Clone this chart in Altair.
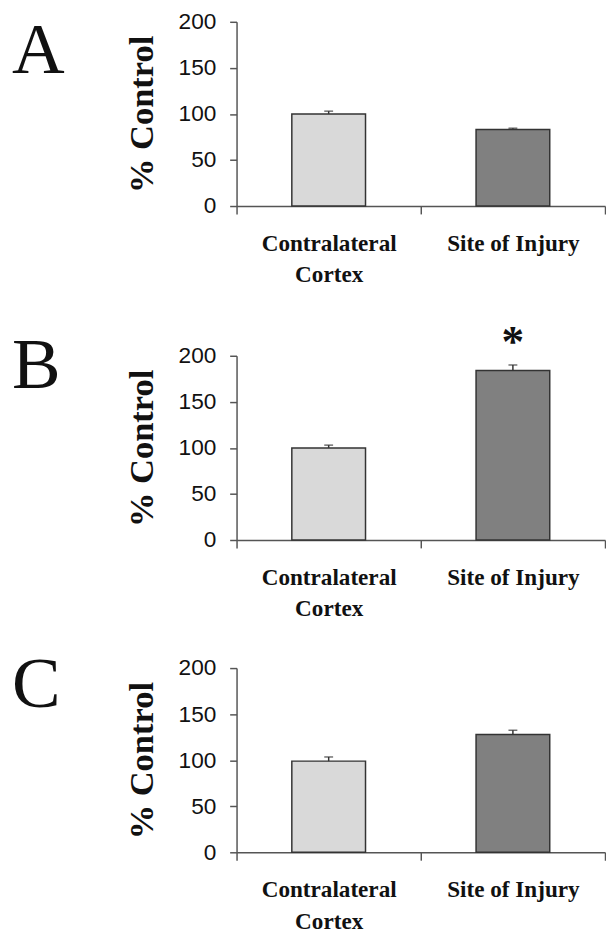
import altair as alt
import pandas as pd

categories = ["Contralateral Cortex", "Site of Injury"]
panel_letters = ["A", "B", "C"]
values_a = [100, 83]
errors_a = [3, 1.5]
values_b = [100, 184]
errors_b = [3, 6]
values_c = [99, 128]
errors_c = [4.5, 4.5]
stars_b = ["", "*"]
y_ticks = [0, 50, 100, 150, 200]
bar_colors = ["#d9d9d9", "#808080"]

W, H = 374, 187
AXIS_COLOR = "#555555"


def panel(letter, vals, errs, stars, letter_y):
    df = pd.DataFrame({
        "cat": categories,
        "val": vals,
        "top": [v + e for v, e in zip(vals, errs)],
        "star": stars,
    })
    base = alt.Chart(df)
    x = alt.X(
        "cat:N",
        sort=categories,
        scale=alt.Scale(paddingInner=0, paddingOuter=0),
        axis=alt.Axis(
            title=None,
            labelAngle=0,
            labelFont="Liberation Serif",
            labelFontWeight="bold",
            labelFontSize=23.5,
            labelColor="#111111",
            labelLineHeight=32,
            labelPadding=18,
            labelExpr="datum.value == 'Contralateral Cortex' ? ['Contralateral', 'Cortex'] : datum.value",
            tickBand="extent",
            tickSize=8,
            tickColor=AXIS_COLOR,
            tickWidth=1.5,
            domainColor=AXIS_COLOR,
            domainWidth=1.5,
        ),
    )
    y = alt.Y(
        "val:Q",
        scale=alt.Scale(domain=[0, 200], nice=False),
        axis=alt.Axis(
            title="% Control",
            values=y_ticks,
            labelFont="Liberation Sans",
            labelFontSize=23,
            labelColor="#111111",
            labelPadding=14,
            tickSize=7,
            tickColor=AXIS_COLOR,
            tickWidth=1.5,
            domainColor=AXIS_COLOR,
            domainWidth=1.5,
            titleFont="Liberation Serif",
            titleFontWeight="bold",
            titleFontSize=35,
            titleColor="#111111",
            titleAngle=270,
            titleX=-96,
            titleY=H / 2,
            titleAlign="center",
            titleBaseline="middle",
        ),
    )
    bars = base.mark_bar(
        width={"band": 0.4}, stroke="#333333", strokeWidth=1.5
    ).encode(
        x=x,
        y=y,
        color=alt.Color(
            "cat:N",
            scale=alt.Scale(domain=categories, range=bar_colors),
            legend=None,
        ),
    )
    rules = base.mark_rule(color="#333333", strokeWidth=1.5).encode(
        x=alt.X("cat:N", sort=categories),
        y="val:Q",
        y2="top:Q",
    )
    caps = base.mark_tick(color="#333333", thickness=1.5, size=9).encode(
        x=alt.X("cat:N", sort=categories),
        y="top:Q",
    )
    star = base.mark_text(
        font="Liberation Serif",
        fontWeight="bold",
        fontSize=46,
        baseline="alphabetic",
        dy=-9,
        color="#111111",
    ).encode(
        x=alt.X("cat:N", sort=categories),
        y="top:Q",
        text="star:N",
    )
    lab = alt.Chart(pd.DataFrame({"t": [letter]})).mark_text(
        font="Liberation Serif",
        fontSize=74,
        align="left",
        baseline="alphabetic",
        color="#111111",
    ).encode(
        text="t:N",
        x=alt.value(-228),
        y=alt.value(letter_y),
    )
    return alt.layer(bars, rules, caps, star, lab).properties(width=W, height=H)


pa = panel(panel_letters[0], values_a, errors_a, ["", ""], 52)
pb = panel(panel_letters[1], values_b, errors_b, stars_b, 33)
pc = panel(panel_letters[2], values_c, errors_c, ["", ""], 40)

inner = alt.vconcat(pb, pc, spacing=130, bounds="flush")
chart = alt.vconcat(pa, inner, spacing=152, bounds="flush").properties(
    padding={"left": 4, "top": -4, "right": 0, "bottom": 0}
).configure_view(stroke=None).configure_axis(grid=False)

chart.save("out.html", embed_options={"renderer": "svg", "actions": False})
